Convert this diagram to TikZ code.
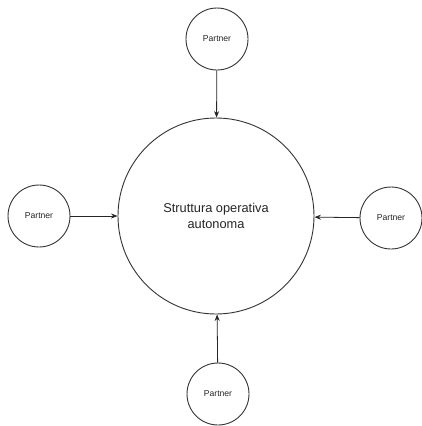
\documentclass[tikz,border=0pt]{standalone}
\usepackage{fontspec}
\setmainfont{Liberation Sans}
\usetikzlibrary{arrows.meta}
\begin{document}
\begin{tikzpicture}[x=1pt,y=-1pt,
  partner/.style={circle,draw=black!80,line width=0.9pt,minimum size=62pt,inner sep=0pt,font=\fontsize{8.6}{10}\selectfont,text=black!85},
  core/.style={circle,draw=black!80,line width=0.9pt,minimum size=196pt,inner sep=0pt,align=center,font=\fontsize{12.8}{16}\selectfont,text=black!85},
  link/.style={draw=black!85,line width=0.8pt,-{Stealth[length=6.5pt,width=5pt]}}]
\useasboundingbox (0,0) rectangle (421,426);
\fill[white] (0,0) rectangle (421,426);
\node[core] (c) at (216,216) {Struttura operativa\\autonoma};
\node[partner] (t) at (217,39) {Partner};
\node[partner] (l) at (39,216) {Partner};
\node[partner] (r) at (391,218) {Partner};
\node[partner] (b) at (218,394) {Partner};
\draw[link] (t) -- (c);
\draw[link] (l) -- (c);
\draw[link] (r) -- (c);
\draw[link] (b) -- (c);
\end{tikzpicture}
\end{document}
